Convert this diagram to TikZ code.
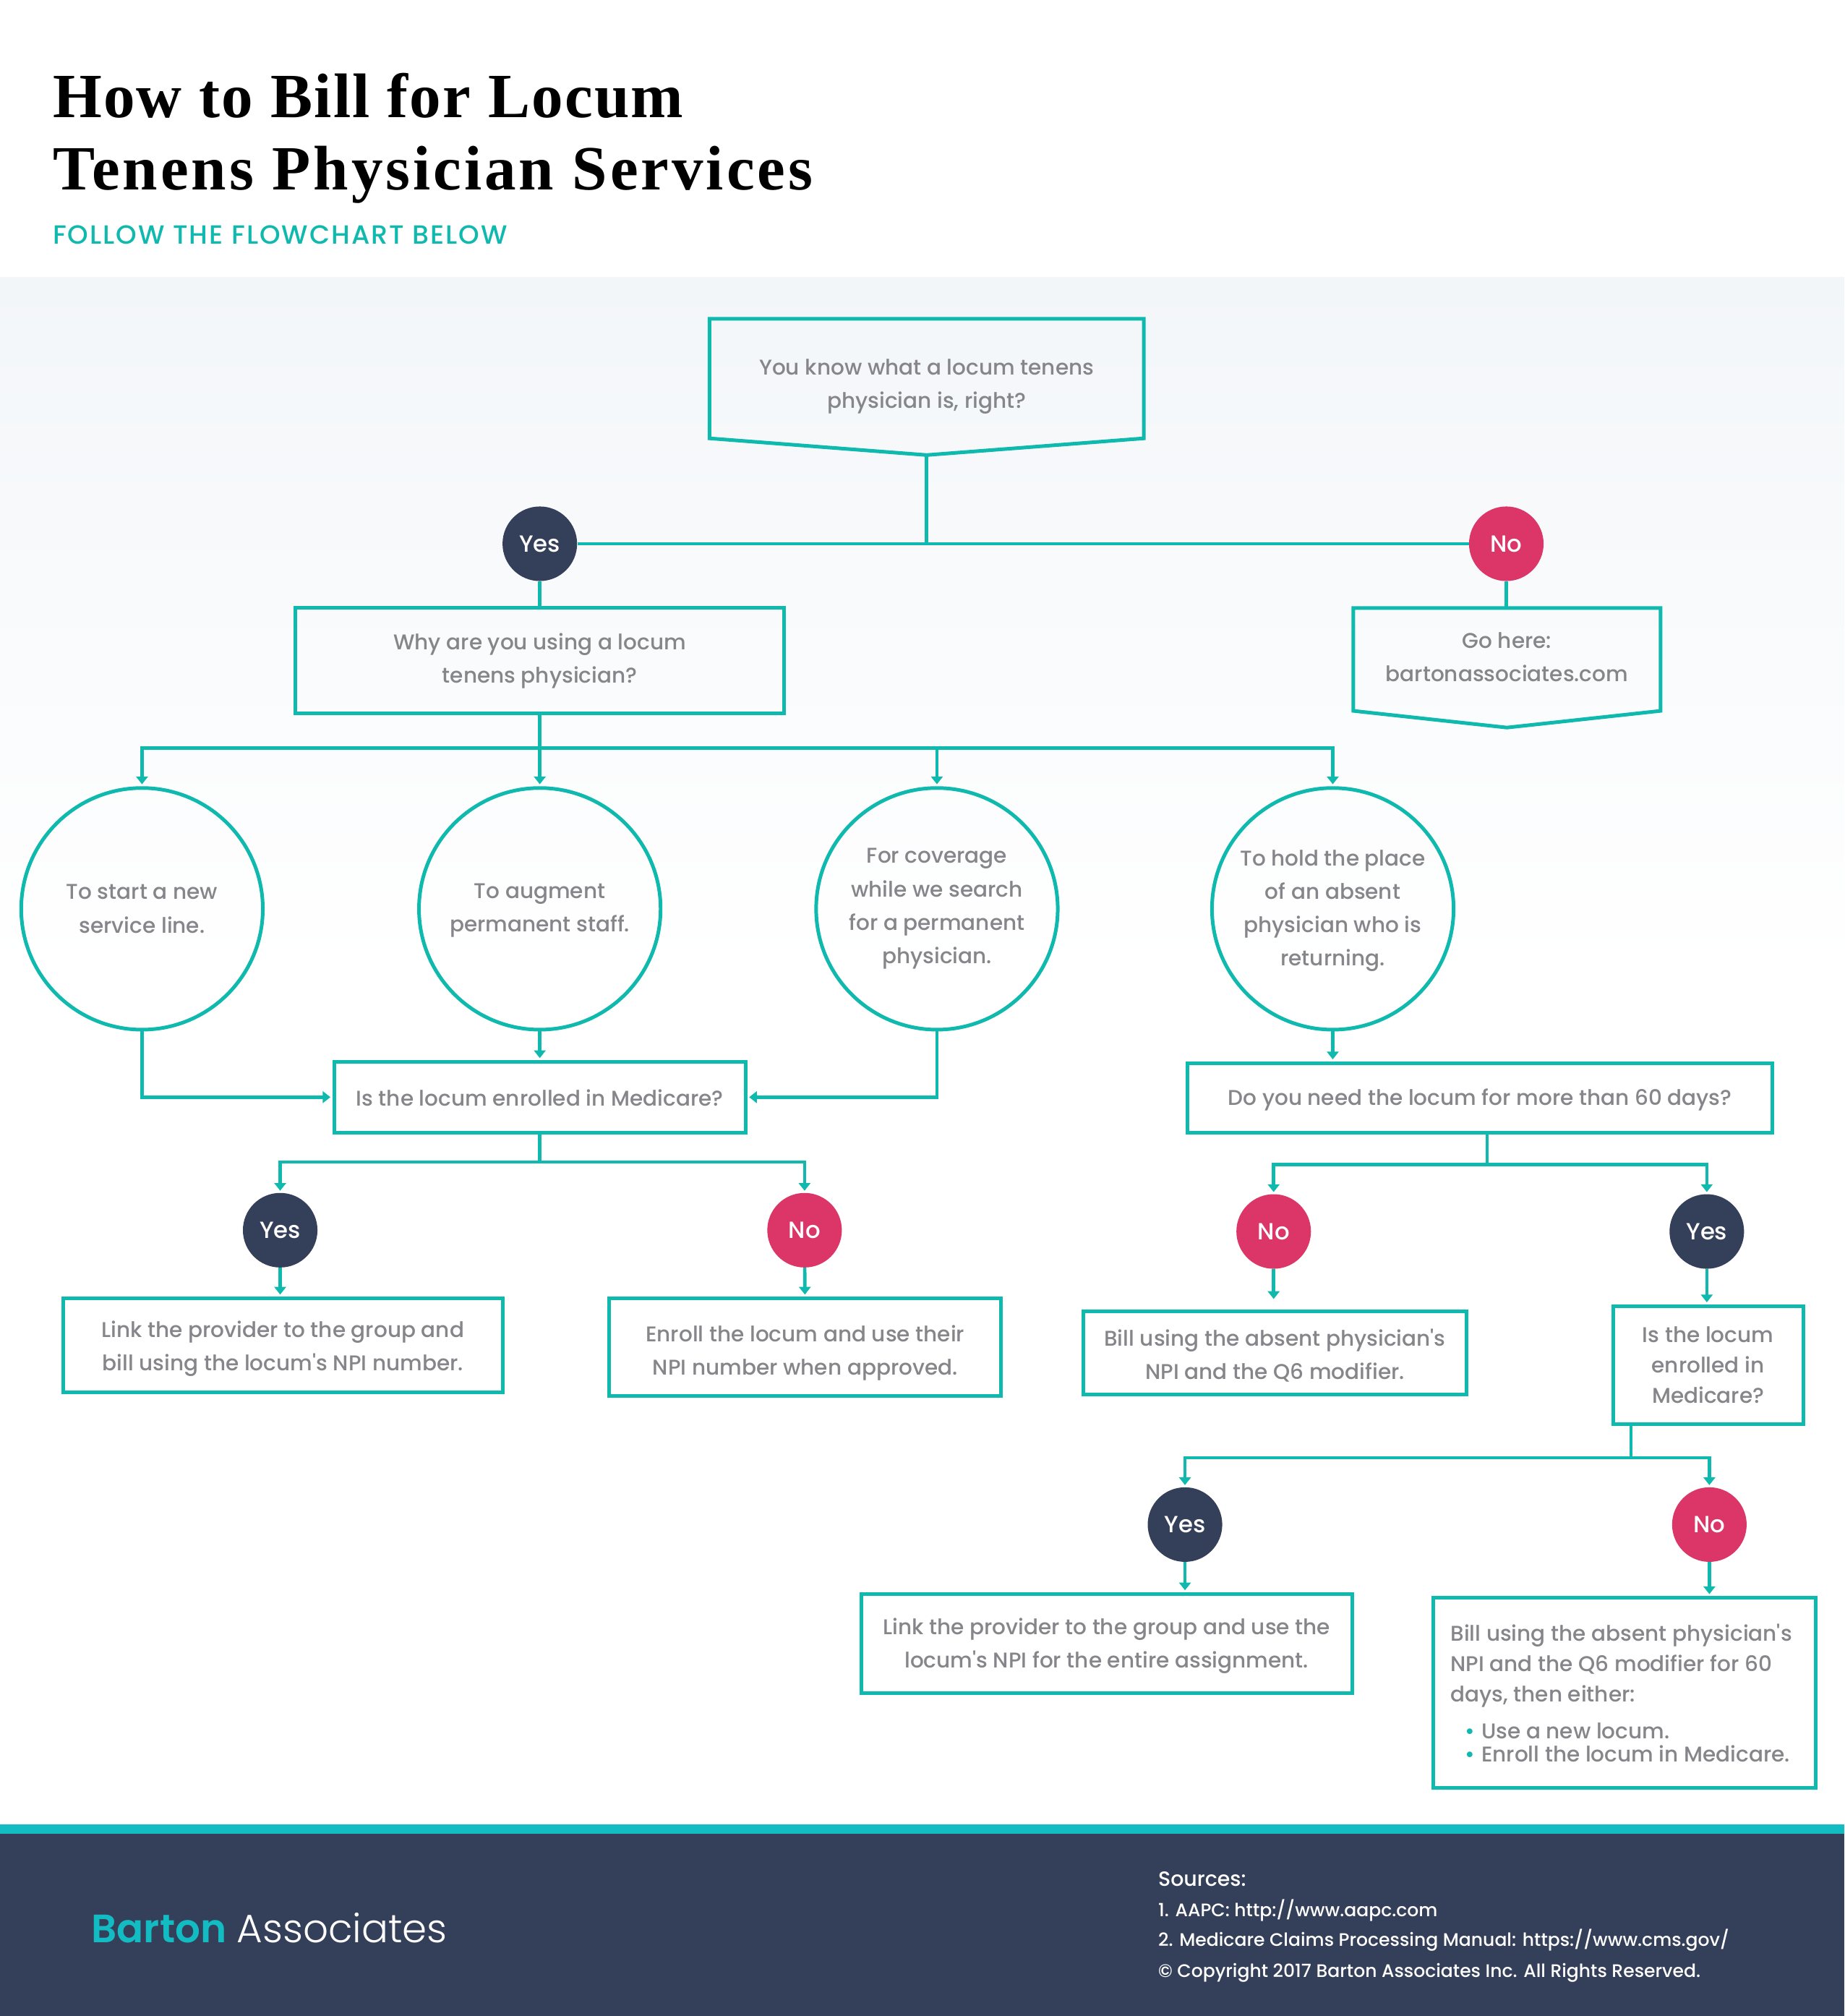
\documentclass[tikz,border=0pt]{standalone}
\usepackage{fontspec}
\setmainfont{Poppins Medium}[Ligatures=TeXOff]
\newfontfamily\titlefontA[LetterSpace=2.5]{Liberation Serif Bold}
\newfontfamily\titlefontB[LetterSpace=4.5]{Liberation Serif Bold}
\newfontfamily\subfont[LetterSpace=5.5]{Poppins Medium}
\newfontfamily\lightfont{Poppins Light}
\newfontfamily\semifont{Poppins SemiBold}
\usetikzlibrary{arrows.meta,positioning}
\definecolor{flowteal}{HTML}{0FB9AE}
\definecolor{barteal}{HTML}{13BCC3}
\definecolor{navy}{HTML}{343F59}
\definecolor{flowpink}{HTML}{DC3568}
\definecolor{flowgrey}{HTML}{85858A}
\definecolor{bandtop}{HTML}{F3F6F9}
\newcommand\lift[1]{\rule{0pt}{#1pt}}

\begin{document}
\begin{tikzpicture}[x=1pt,y=-1pt,
			line/.style={draw=flowteal,line width=2.8pt,line join=miter},
			link/.style={draw=flowteal,line width=2.6pt},
			flow/.style={link,-{Triangle[length=6pt,width=9pt]},shorten >=1.5pt},
			words/.style={inner sep=0pt,text=flowgrey,align=center,font=\fontsize{16.6}{26}\selectfont},
			box/.style={words,line,rectangle},
			round/.style={words,line,circle,minimum size=188pt},
			yesdot/.style={circle,fill=navy,text=white,inner sep=0pt,minimum size=58pt,font=\fontsize{18.2}{22}\selectfont},
			nodot/.style={yesdot,fill=flowpink},
			source/.style={inner sep=0pt,anchor=base west,text=white,font=\fontsize{14.1}{18}\selectfont}]
	\useasboundingbox (0,0) rectangle (1435,1568.3);

	% bands
	\fill[white] (0,0) rectangle (1435,1568.3);
	\shade[top color=bandtop,bottom color=white] (0,216) rectangle (1435,760);
	\fill[navy] (0,1426) rectangle (1435,1568.3);
	\fill[barteal] (0,1419) rectangle (1435,1426.5);

	% heading
	\node[inner sep=0pt,anchor=base west,font=\titlefontA\fontsize{49}{56}\selectfont] (titleA) at (41,91.5) {How to Bill for Locum};
	\node[inner sep=0pt,anchor=base west,font=\titlefontB\fontsize{49}{56}\selectfont] (titleB) at (41,147.5) {Tenens Physician Services};
	\node[inner sep=0pt,anchor=base west,text=flowteal,font=\subfont\fontsize{20.5}{24}\selectfont] (subtitle) at (41,190) {FOLLOW THE FLOWCHART BELOW};

	% first question
	\draw[line] (552,248) -- (890,248) -- (890,341) -- (721,354) coordinate (asktip) -- (552,341) -- cycle;
	\node[words] (ask) at (721,300.5) {You know what a locum tenens\\physician is, right?};
	\node[yesdot] (askyes) at (420,423) {Yes};
	\node[nodot] (askno) at (1172,423) {No};
	\coordinate (askfork) at (721,423);
	\draw[link] (asktip) -- (askfork);
	\draw[link] (askyes) -- (askno);

	\node[box,minimum width=380pt,minimum height=82pt] (why) at (420,514) {Why are you using a locum\\tenens physician?};
	\draw[link] (askyes) -- (why);
	\draw[line] (1053,473) -- (1292,473) -- (1292,553) -- (1172.5,566) -- (1053,553) -- cycle;
	\coordinate (gotop) at (1172,473);
	\node[words] (gohere) at (1172.5,511) {Go here:\\bartonassociates.com};
	\draw[link] (askno) -- (gotop);

	% reasons
	\node[round] (start) at (110.5,707) {To start a new\\service line.};
	\node[round] (augment) at (420,707) {\lift{14}To augment\\permanent staff.};
	\node[round] (search) at (729,707) {For coverage\\while we search\\for a permanent\\physician.};
	\node[round] (hold) at (1037,707) {\lift{15.3}To hold the place\\of an absent\\physician who is\\returning.};
	\coordinate (whyfork) at (420,582);
	\draw[link] (why) -- (whyfork);
	\draw[flow] (whyfork) -| (start);
	\draw[flow] (whyfork) -- (augment);
	\draw[flow] (whyfork) -| (search);
	\draw[flow] (whyfork) -| (hold);

	% left branch
	\node[box,minimum width=320pt,minimum height=55pt] (medA) at (420,853.5) {\lift{14.3}Is the locum enrolled in Medicare?};
	\draw[flow] (augment) -- (medA);
	\draw[flow] (start) |- (medA);
	\draw[flow] (search) |- (medA);
	\node[yesdot] (medAyes) at (218,957) {Yes};
	\node[nodot] (medAno) at (626,957) {No};
	\coordinate (medAfork) at (420,904);
	\draw[link] (medA) -- (medAfork);
	\draw[flow] (medAfork) -| (medAyes);
	\draw[flow] (medAfork) -| (medAno);
	\node[box,minimum width=342pt,minimum height=73pt] (linkA) at (220,1046.5) {\lift{18.3}Link the provider to the group and\\bill using the locum's NPI number.};
	\node[box,minimum width=305pt,minimum height=76pt] (enroll) at (626.5,1048) {\lift{22}Enroll the locum and use their\\NPI number when approved.};
	\draw[flow] (medAyes) -- (medAyes |- linkA.north);
	\draw[flow] (medAno) -- (enroll);

	% right branch
	\node[box,minimum width=455pt,minimum height=54pt] (days) at (1151.5,854) {\lift{16.3}Do you need the locum for more than 60 days?};
	\draw[flow] (hold) -- (hold |- days.north);
	\node[nodot] (daysno) at (991,958) {No};
	\node[yesdot] (daysyes) at (1328,958) {Yes};
	\coordinate (daysfork) at (1157,906);
	\draw[link] (days.south -| daysfork) -- (daysfork);
	\draw[flow] (daysfork) -| (daysno);
	\draw[flow] (daysfork) -| (daysyes);
	\node[box,minimum width=298pt,minimum height=65pt] (absent) at (992,1052.5) {\lift{17}Bill using the absent physician's\\NPI and the Q6 modifier.};
	\coordinate (absenttop) at (991,1012);
	\draw[flow] (daysno) -- (absenttop);
	\node[box,minimum width=148pt,minimum height=92pt,font=\fontsize{16.6}{23.5}\selectfont] (medB) at (1329,1062) {Is the locum\\enrolled in\\Medicare?};
	\draw[flow] (daysyes) -- (daysyes |- medB.north);
	\node[yesdot] (medByes) at (922,1186) {Yes};
	\node[nodot] (medBno) at (1330,1186) {No};
	\coordinate (medBfork) at (1269,1134);
	\draw[link] (medB.south -| medBfork) -- (medBfork);
	\draw[flow] (medBfork) -| (medByes);
	\draw[flow] (medBfork) -| (medBno);
	\node[box,minimum width=382pt,minimum height=77pt] (linkB) at (861,1278.5) {\lift{16.3}Link the provider to the group and use the\\locum's NPI for the entire assignment.};
	\node[box,minimum width=298pt,minimum height=148pt,align=left,font=\fontsize{16.6}{23.5}\selectfont] (either) at (1264,1317) {Bill using the absent physician's\hspace*{5pt}\\NPI and the Q6 modifier for 60\\days, then either:\\[5pt]
		\hspace*{11pt}\makebox[13pt][l]{\textcolor{flowteal}{\textbullet}}Use a new locum.\\[-5.5pt]
		\hspace*{11pt}\makebox[13pt][l]{\textcolor{flowteal}{\textbullet}}Enroll the locum in Medicare.};
	\draw[flow] (medByes) -- (medByes |- linkB.north);
	\draw[flow] (medBno) -- (medBno |- either.north);

	% footer
	\node[inner sep=0pt,anchor=base west,text=white,font=\fontsize{30.8}{36}\selectfont] (brand) at (71,1511) {{\semifont\color{barteal}Barton} {\lightfont Associates}};
	\node[source,font=\fontsize{16}{18}\selectfont] (srcA) at (901,1467.5) {Sources:};
	\node[source] (srcB) at (901,1491) {1. AAPC: http://www.aapc.com};
	\node[source] (srcC) at (901,1514) {2. Medicare Claims Processing Manual: https://www.cms.gov/};
	\node[source] (srcD) at (901,1538) {© Copyright 2017 Barton Associates Inc. All Rights Reserved.};
\end{tikzpicture}
\end{document}
